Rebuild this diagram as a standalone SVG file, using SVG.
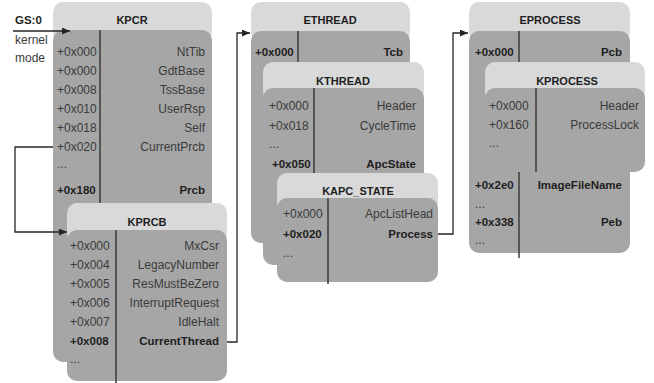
<svg xmlns="http://www.w3.org/2000/svg" width="654" height="383" viewBox="0 0 654 383">
<defs>
<marker id="arr" markerWidth="9" markerHeight="8" refX="8" refY="3.5" orient="auto" markerUnits="userSpaceOnUse">
<path d="M0,0 L8,3.5 L0,7 z" fill="#262626"/>
</marker>
<style>
.hd{fill:#d9d9d9}
.bd{fill:#a6a6a6}
.dv{stroke:#3a3a3a;stroke-width:1.5;fill:none}
text{font-family:"Liberation Sans",Arial,sans-serif;font-size:12px;fill:#3a3a3a}
.t{font-weight:bold;font-size:11px;fill:#1e1e1e;text-anchor:middle}
.b{font-weight:bold;font-size:11.5px;fill:#1e1e1e}
.r{text-anchor:end}
.cn{stroke:#262626;stroke-width:1.3;fill:none}
</style>
</defs>
<rect width="654" height="383" fill="#ffffff"/>

<g id="gs">
<text x="15" y="24" class="b">GS:0</text>
<text x="15" y="44">kernel</text>
<text x="15" y="62">mode</text>
</g>

<g id="kpcr">
<rect class="hd" x="53" y="2" width="159" height="40" rx="10"/>
<rect class="bd" x="53" y="30" width="159" height="332" rx="10"/>
<line class="dv" x1="100" y1="30" x2="100" y2="362"/>
<text x="132" y="24" class="t">KPCR</text>
<text x="57" y="56">+0x000</text><text x="205" y="56" class="r">NtTib</text>
<text x="57" y="75">+0x000</text><text x="205" y="75" class="r">GdtBase</text>
<text x="57" y="94">+0x008</text><text x="205" y="94" class="r">TssBase</text>
<text x="57" y="113">+0x010</text><text x="205" y="113" class="r">UserRsp</text>
<text x="57" y="132">+0x018</text><text x="205" y="132" class="r">Self</text>
<text x="57" y="151">+0x020</text><text x="205" y="151" class="r">CurrentPrcb</text>
<text x="57" y="168">...</text>
<text x="57" y="194" class="b">+0x180</text><text x="205" y="194" class="b r">Prcb</text>
</g>

<g id="kprcb">
<rect class="hd" x="67" y="203" width="160" height="40" rx="10"/>
<rect class="bd" x="67" y="230" width="160" height="151" rx="10"/>
<line class="dv" x1="116" y1="230" x2="116" y2="383"/>
<text x="147" y="226" class="t">KPRCB</text>
<text x="70" y="250">+0x000</text><text x="219" y="250" class="r">MxCsr</text>
<text x="70" y="269">+0x004</text><text x="219" y="269" class="r">LegacyNumber</text>
<text x="70" y="288">+0x005</text><text x="219" y="288" class="r">ResMustBeZero</text>
<text x="70" y="307">+0x006</text><text x="219" y="307" class="r">InterruptRequest</text>
<text x="70" y="326">+0x007</text><text x="219" y="326" class="r">IdleHalt</text>
<text x="70" y="345" class="b">+0x008</text><text x="219" y="345" class="b r">CurrentThread</text>
<text x="70" y="363">...</text>
</g>

<g id="ethread">
<rect class="hd" x="251" y="2" width="159" height="40" rx="10"/>
<rect class="bd" x="251" y="31" width="159" height="212" rx="10"/>
<line class="dv" x1="298" y1="31" x2="298" y2="243"/>
<text x="330" y="24" class="t">ETHREAD</text>
<text x="255" y="56" class="b">+0x000</text><text x="403" y="56" class="b r">Tcb</text>
</g>

<g id="kthread">
<rect class="hd" x="263" y="62" width="161" height="40" rx="10"/>
<rect class="bd" x="263" y="88" width="161" height="177" rx="10"/>
<line class="dv" x1="314" y1="88" x2="314" y2="265"/>
<text x="343" y="85" class="t">KTHREAD</text>
<text x="269" y="110">+0x000</text><text x="416" y="110" class="r">Header</text>
<text x="269" y="130">+0x018</text><text x="416" y="130" class="r">CycleTime</text>
<text x="269" y="148">...</text>
<text x="272" y="168" class="b">+0x050</text><text x="416" y="168" class="b r">ApcState</text>
</g>

<g id="kapc_state">
<rect class="hd" x="277" y="173" width="161" height="40" rx="10"/>
<rect class="bd" x="277" y="198" width="161" height="84" rx="10"/>
<line class="dv" x1="328" y1="198" x2="328" y2="284"/>
<text x="358" y="195" class="t">KAPC_STATE</text>
<text x="283" y="218">+0x000</text><text x="433" y="218" class="r">ApcListHead</text>
<text x="283" y="238" class="b">+0x020</text><text x="433" y="238" class="b r">Process</text>
<text x="283" y="257">...</text>
</g>

<g id="eprocess">
<rect class="hd" x="469" y="2" width="161" height="40" rx="10"/>
<rect class="bd" x="469" y="31" width="161" height="222" rx="10"/>
<line class="dv" x1="519" y1="31" x2="519" y2="258"/>
<text x="550" y="24" class="t">EPROCESS</text>
<text x="475" y="56" class="b">+0x000</text><text x="622" y="56" class="b r">Pcb</text>
<text x="475" y="189" class="b">+0x2e0</text><text x="622" y="189" class="b r">ImageFileName</text>
<text x="475" y="208">...</text>
<text x="475" y="226" class="b">+0x338</text><text x="622" y="226" class="b r">Peb</text>
<text x="475" y="244">...</text>
</g>

<g id="kprocess">
<rect class="hd" x="485" y="62" width="160" height="40" rx="10"/>
<rect class="bd" x="485" y="88" width="160" height="84" rx="10"/>
<line class="dv" x1="536" y1="88" x2="536" y2="172"/>
<text x="567" y="85" class="t">KPROCESS</text>
<text x="489" y="110">+0x000</text><text x="639" y="110" class="r">Header</text>
<text x="489" y="129">+0x160</text><text x="639" y="129" class="r">ProcessLock</text>
<text x="489" y="147">...</text>
</g>

<g id="connectors">
<path class="cn" d="M13,31 H70" marker-end="url(#arr)"/>
<path class="cn" d="M53,147 H15 V232 H67" marker-end="url(#arr)"/>
<path class="cn" d="M227,342 H237 V33 H250" marker-end="url(#arr)"/>
<path class="cn" d="M438,234 H453 V33 H468" marker-end="url(#arr)"/>
</g>
</svg>
